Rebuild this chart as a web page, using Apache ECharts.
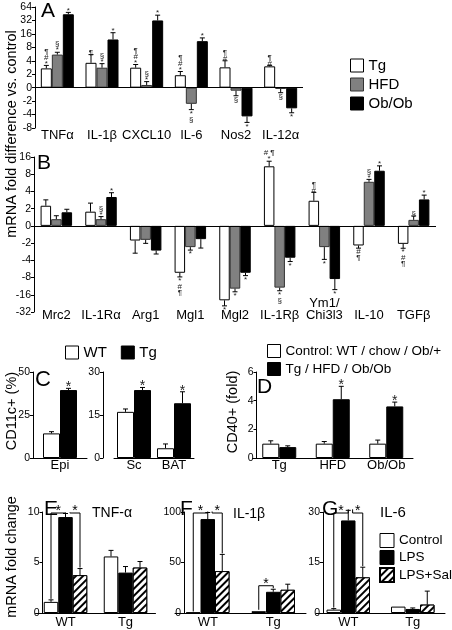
<!DOCTYPE html>
<html><head><meta charset="utf-8">
<script src="https://cdn.jsdelivr.net/npm/echarts@6/dist/echarts.min.js"></script>
<style>html,body{margin:0;padding:0;background:#fff}#c{width:452px;height:630px}</style>
</head><body><div id="c"></div>
<script>
// ---------------- data ----------------
// Panel A (fold difference vs control, signed log2 axis)
const catsA = ['TNFα','IL-1β','CXCL10','IL-6','Nos2','IL-12α'];
const tgA = [2.7, 3.6, 2.8, 1.85, 2.85, 3.0];
const tgSemA = [0.45, 1.9, 0.5, 0.45, 1.15, 0.15];
const hfdA = [5.5, 2.8, 0.4, -2.3, -0.45, -0.2];
const hfdSemA = [0.7, 0.65, 0.5, 0.8, 0.75, 0.55];
const obA = [44, 12, 32, 11, -4.4, -2.9];
const obSemA = [4.5, 5, 10, 2, 1.6, 0.75];
const tgMarkA = ['¶\n#\n*','¶','¶\n#\n*','¶\n#\n*','¶\n#','¶\n#'];
const hfdMarkA = ['§\n*','§\n*','§\n*','*\n§','§','§'];
const obMarkA = ['*','*','*','*','*','*'];
const ticksA = [-8,-4,-2,0,2,4,8,16,32,64];

// Panel B
const catsB = ['Mrc2','IL-1Rα','Arg1','Mgl1','Mgl2','IL-1Rβ','Ym1/\nChi3l3','IL-10','TGFβ'];
const tgB = [2.25, 1.65, -1.7, -6.6, -20, 11, 2.75, -2.2, -2.06];
const tgSemB = [0.6, 0.85, 1.3, 1.2, 5, 2.5, 1.1, 0.25, 0.4];
const hfdB = [0.78, 0.78, -1.62, -2.35, -12.5, -12, -2.35, 5.9, 0.7];
const hfdSemB = [0.4, 0.3, 0.4, 0.3, 1.7, 1.6, 1.5, 0.6, 0.45];
const obB = [1.58, 3.2, -2.7, -1.54, -6.6, -3.6, -8.5, 9.2, 2.9];
const obSemB = [0.35, 0.6, 0.4, 0.9, 0.8, 0.6, 4.5, 2, 0.55];
const tgMarkB = ['','','','*\n#\n¶','*','# ¶\n*','¶\n#','#\n¶','*\n#\n¶'];
const hfdMarkB = ['','§\n*','','*','*','*\n§','*','§\n*','§'];
const obMarkB = ['','*','','','*','*','*','*','*'];
const ticksB = [-32,-16,-8,-4,-2,0,2,4,8,16];

// Panel C (CD11c+ %)
const catsCL = ['Epi'];
const wtCL = [14.3], wtSemCL = [1.0], tgCL = [39.5], tgSemCL = [1.0];
const catsCR = ['Sc','BAT'];
const wtCR = [16.1, 3.4], wtSemCR = [1.0, 1.5], tgCR = [23.7, 19.1], tgSemCR = [0.9, 4.0];
const starCL = ['*'], starCR = ['*','*'];

// Panel D (CD40+ fold)
const catsD = ['Tg','HFD','Ob/Ob'];
const ctrlD = [1.0, 1.0, 1.0], ctrlSemD = [0.2, 0.15, 0.25];
const expD = [0.76, 4.1, 3.6], expSemD = [0.09, 0.9, 0.3];
const starD = ['', '*', '*'];

// Panels E, F, G (mRNA fold change)
const catsEFG = ['WT','Tg'];
const ctrlE = [1.1, 5.6], ctrlSemE = [0.2, 0.6];
const lpsE = [9.5, 4.0], lpsSemE = [0.35, 0.6];
const salE = [3.75, 4.5], salSemE = [0.65, 0.6];
const ctrlF = [0.5, 1.8], ctrlSemF = [0, 0.4];
const lpsF = [93, 21], lpsSemF = [6.5, 2.5];
const salF = [41.5, 23], salSemF = [16.5, 5.5];
const ctrlG = [1.0, 1.9], ctrlSemG = [0.3, 0];
const lpsG = [27.5, 1.2], lpsSemG = [3, 0.3];
const salG = [10.6, 2.5], salSemG = [3, 4];
const bracketsE = [[0,0,1,9.9],[0,1,2,9.9]];
const bracketsF = [[0,0,1,99],[0,1,2,99],[1,0,1,27]];
const bracketsG = [[0,0,1,29.7],[0,1,2,29.7]];

// ---------------- helpers ----------------
const FONT = 'Liberation Sans, Arial, sans-serif';
const tf = v => v >= 2 ? Math.log2(v) : v <= -2 ? -Math.log2(-v) : v / 2;
const itf = t => t >= 1 ? Math.pow(2, t) : t <= -1 ? -Math.pow(2, -t) : t * 2;
const idf = v => v;
const GRAY = '#808080';
const hatch = {symbol:'rect', symbolSize:1, color:'#000', backgroundColor:'#fff',
  dashArrayX:[1,0], dashArrayY:[1.4,2.6], rotation:-Math.PI/4};

function bar(name, gi, vals, color, border, w, f, decal) {
  const s = {type:'bar', name, xAxisIndex:gi, yAxisIndex:gi, data:vals.map(f),
    barWidth:w, barGap:'0%', silent:true, animation:false,
    itemStyle:{color, borderColor:border, borderWidth:1}};
  if (decal) s.itemStyle.decal = decal;
  return s;
}
function errs(gi, vals, sems, off, f, marks, mk) {
  mk = mk || {size:8, lh:6, shift:1};
  const data = vals.map((v, i) => [i, f(v), f(v + (v < 0 ? -1 : 1) * sems[i]), v]);
  return {type:'custom', xAxisIndex:gi, yAxisIndex:gi, data, z:5, silent:true, animation:false,
    encode:{x:0, y:[1,2]},
    renderItem:(p, api) => {
      const i = api.value(0);
      const a = api.coord([i, api.value(1)]), b = api.coord([i, api.value(2)]);
      const x = a[0] + off;
      const ch = [];
      if (Math.abs(b[1] - a[1]) > 0.6) {
        ch.push({type:'line', shape:{x1:x, y1:a[1], x2:x, y2:b[1]}, style:{stroke:'#000', lineWidth:1}});
        ch.push({type:'line', shape:{x1:x-2.5, y1:b[1], x2:x+2.5, y2:b[1]}, style:{stroke:'#000', lineWidth:1}});
      }
      const m = marks && marks[p.dataIndex];
      if (m) {
        const up = api.value(3) >= 0;
        ch.push({type:'text', x:x, y: up ? b[1] + mk.shift : b[1] + 1,
          style:{text:m, align:'center', verticalAlign: up ? 'bottom' : 'top',
            fontSize:mk.size, fontFamily:FONT, fill:'#222', lineHeight:mk.lh}});
      }
      return {type:'group', children:ch};
    }};
}
function brackets(gi, list, tops, w) {
  return {type:'custom', xAxisIndex:gi, yAxisIndex:gi, data:list, z:6, silent:true, animation:false,
    encode:{x:0, y:3},
    renderItem:(p, api) => {
      const [cat, s1, s2, lvl] = list[p.dataIndex];
      const c = api.coord([cat, lvl]);
      let x1 = c[0] + (s1 - 1) * w, x2 = c[0] + (s2 - 1) * w;
      if (s1 === 1) x1 += w * 0.3;
      const y1 = api.coord([cat, tops[s1][cat]])[1] - 1;
      const y2 = api.coord([cat, tops[s2][cat]])[1] - 1;
      return {type:'group', children:[
        {type:'polyline', shape:{points:[[x1, y1], [x1, c[1]], [x2, c[1]], [x2, y2]]},
          style:{stroke:'#000', fill:null, lineWidth:1}},
        {type:'text', x:(x1 + x2) / 2, y:c[1] + 5,
          style:{text:'*', align:'center', verticalAlign:'bottom', fontSize:14, fontFamily:FONT, fill:'#000'}}
      ]};
    }};
}
const tops = (v, s) => v.map((x, i) => x + s[i]);

function yAx(gi, min, max, interval, extra) {
  return Object.assign({type:'value', gridIndex:gi, min, max, interval,
    axisLine:{show:true, lineStyle:{color:'#000', width:1}},
    axisTick:{show:true, length:3, lineStyle:{color:'#000'}},
    splitLine:{show:false},
    axisLabel:{fontSize:10.5, color:'#000', margin:3, fontFamily:FONT}}, extra || {});
}
function xAx(gi, data, extra) {
  return Object.assign({type:'category', gridIndex:gi, data,
    axisLine:{show:true, lineStyle:{color:'#000', width:1}},
    axisTick:{show:false},
    axisLabel:{fontSize:13, color:'#000', margin:1, interval:0, fontFamily:FONT}}, extra || {});
}
const zeroLine = {silent:true, symbol:'none', label:{show:false},
  lineStyle:{color:'#000', type:'solid', width:1}, data:[{yAxis:0}], animation:false};

// ---------------- option ----------------
const wA = 11, wB = 10.5, wC = 17, wE = 14.5;
const series = [];
// A
const sA = bar('Tg', 0, tgA, '#fff', '#000', wA, tf); sA.markLine = zeroLine;
series.push(sA, bar('HFD', 0, hfdA, GRAY, '#333', wA, tf), bar('Ob/Ob', 0, obA, '#000', '#000', wA, tf));
series.push(errs(0, tgA, tgSemA, -wA, tf, tgMarkA), errs(0, hfdA, hfdSemA, 0, tf, hfdMarkA), errs(0, obA, obSemA, wA, tf, obMarkA));
// B
const sB = bar('Tg', 1, tgB, '#fff', '#000', wB, tf); sB.markLine = zeroLine;
series.push(sB, bar('HFD', 1, hfdB, GRAY, '#333', wB, tf), bar('Ob/Ob', 1, obB, '#000', '#000', wB, tf));
series.push(errs(1, tgB, tgSemB, -wB, tf, tgMarkB), errs(1, hfdB, hfdSemB, 0, tf, hfdMarkB), errs(1, obB, obSemB, wB, tf, obMarkB));
// C
const starMk = {size:14, lh:14, shift:6};
series.push(bar('WT', 2, wtCL, '#fff', '#000', wC, idf), bar('Tg', 2, tgCL, '#000', '#000', wC, idf));
series.push(errs(2, wtCL, wtSemCL, -wC/2, idf), errs(2, tgCL, tgSemCL, wC/2, idf, starCL, starMk));
series.push(bar('WT', 3, wtCR, '#fff', '#000', wC, idf), bar('Tg', 3, tgCR, '#000', '#000', wC, idf));
series.push(errs(3, wtCR, wtSemCR, -wC/2, idf), errs(3, tgCR, tgSemCR, wC/2, idf, starCR, starMk));
// D
series.push(bar('Control: WT / chow / Ob/+', 4, ctrlD, '#fff', '#000', wC, idf), bar('Tg / HFD / Ob/Ob', 4, expD, '#000', '#000', wC, idf));
series.push(errs(4, ctrlD, ctrlSemD, -wC/2, idf), errs(4, expD, expSemD, wC/2, idf, starD, starMk));
// E F G
[[5, ctrlE, ctrlSemE, lpsE, lpsSemE, salE, salSemE, bracketsE],
 [6, ctrlF, ctrlSemF, lpsF, lpsSemF, salF, salSemF, bracketsF],
 [7, ctrlG, ctrlSemG, lpsG, lpsSemG, salG, salSemG, bracketsG]].forEach(([gi, c, cs, l, ls, s, ss, br]) => {
  series.push(bar('Control', gi, c, '#fff', '#000', wE, idf), bar('LPS', gi, l, '#000', '#000', wE, idf),
    bar('LPS+Sal', gi, s, '#fff', '#000', wE, idf, hatch));
  series.push(errs(gi, c, cs, -wE, idf), errs(gi, l, ls, 0, idf), errs(gi, s, ss, wE, idf));
  series.push(brackets(gi, br, [tops(c, cs), tops(l, ls), tops(s, ss)], wE));
});

const labelFmt = v => String(Math.round(itf(v)));
const W = {color:'#fff', borderColor:'#000', borderWidth:1};
const K = {color:'#000', borderColor:'#000', borderWidth:1};
const G = {color:GRAY, borderColor:'#333', borderWidth:1};
const option = {
  animation:false,
  textStyle:{fontFamily:FONT},
  grid:[
    {left:35, top:7, width:268, height:121},
    {left:34, top:157, width:402, height:155},
    {left:33, top:372, width:54, height:86},
    {left:114, top:372, width:80, height:86},
    {left:252.5, top:372, width:160.5, height:86},
    {left:35.5, top:512, width:120, height:101},
    {left:175, top:512, width:131, height:101},
    {left:316, top:512, width:129, height:101}
  ],
  xAxis:[
    xAx(0, catsA, {axisLine:{show:false}}),
    xAx(1, catsB, {axisLine:{show:false}, axisLabel:{fontSize:13, color:'#000', interval:0, margin:9, verticalAlign:'bottom', lineHeight:12, fontFamily:FONT}}),
    xAx(2, catsCL), xAx(3, catsCR), xAx(4, catsD),
    xAx(5, catsEFG, {axisLabel:{fontSize:13, color:'#000', margin:3, fontFamily:FONT}}),
    xAx(6, catsEFG, {axisLabel:{fontSize:13, color:'#000', margin:3, fontFamily:FONT}}),
    xAx(7, catsEFG, {axisLabel:{fontSize:13, color:'#000', margin:3, fontFamily:FONT}})
  ],
  yAxis:[
    yAx(0, tf(ticksA[0]), tf(ticksA[ticksA.length-1]), 1, {axisLabel:{fontSize:10.5, color:'#000', margin:3, formatter:labelFmt}}),
    yAx(1, tf(ticksB[0]), tf(ticksB[ticksB.length-1]), 1, {axisLabel:{fontSize:10.5, color:'#000', margin:3, formatter:labelFmt}}),
    yAx(2, 0, 50, 25), yAx(3, 0, 30, 15, {offset:11}),
    yAx(4, 0, 6, 2, {offset:-4}),
    yAx(5, 0, 10, 5, {offset:-7}), yAx(6, 0, 100, 50, {offset:-9}), yAx(7, 0, 30, 15, {offset:-7})
  ],
  legend:[
    {data:[{name:'Tg', itemStyle:W}, {name:'HFD', itemStyle:G}, {name:'Ob/Ob', itemStyle:K}],
      orient:'vertical', left:350, top:58, padding:0, icon:'rect', itemWidth:13, itemHeight:13, itemGap:4, selectedMode:false,
      textStyle:{fontSize:15, color:'#000', fontFamily:FONT}},
    {data:[{name:'WT', itemStyle:W}, {name:'Tg', itemStyle:K}], orient:'horizontal', left:65, top:345, padding:0, icon:'rect', itemWidth:13, itemHeight:13, itemGap:14, selectedMode:false,
      textStyle:{fontSize:15, color:'#000', fontFamily:FONT}},
    {data:[{name:'Control: WT / chow / Ob/+', itemStyle:W}, {name:'Tg / HFD / Ob/Ob', itemStyle:K}], orient:'vertical', left:267, top:344, padding:0, icon:'rect', itemWidth:13, itemHeight:13, itemGap:4, selectedMode:false,
      textStyle:{fontSize:13.5, color:'#000', fontFamily:FONT}},
    {data:[{name:'Control', itemStyle:W}, {name:'LPS', itemStyle:K}, 'LPS+Sal'], orient:'vertical', left:379, top:533, padding:0, icon:'rect', itemWidth:14, itemHeight:14, itemGap:2, selectedMode:false,
      textStyle:{fontSize:13.5, color:'#000', fontFamily:FONT}}
  ],
  graphic:[
    {type:'text', x:41, y:1, style:{text:'A', fontSize:21, fontFamily:FONT, fill:'#000'}},
    {type:'text', x:37, y:153, style:{text:'B', fontSize:21, fontFamily:FONT, fill:'#000'}},
    {type:'text', x:35, y:369, style:{text:'C', fontSize:22, fontFamily:FONT, fill:'#000'}},
    {type:'text', x:257, y:377, style:{text:'D', fontSize:21, fontFamily:FONT, fill:'#000'}},
    {type:'text', x:44, y:499, style:{text:'E', fontSize:21, fontFamily:FONT, fill:'#000'}},
    {type:'text', x:180, y:499, style:{text:'F', fontSize:21, fontFamily:FONT, fill:'#000'}},
    {type:'text', x:322, y:499, style:{text:'G', fontSize:21, fontFamily:FONT, fill:'#000'}},
    {type:'text', x:92, y:506, style:{text:'TNF-α', fontSize:14, fontFamily:FONT, fill:'#000'}},
    {type:'text', x:233, y:507, style:{text:'IL-1β', fontSize:14, fontFamily:FONT, fill:'#000'}},
    {type:'text', x:380, y:505, style:{text:'IL-6', fontSize:15, fontFamily:FONT, fill:'#000'}},
    {type:'text', x:12, y:134, rotation:Math.PI/2, style:{text:'mRNA fold difference vs. control', fontSize:14.5, fontFamily:FONT, fill:'#000', align:'center', verticalAlign:'middle'}},
    {type:'text', x:12, y:411, rotation:Math.PI/2, style:{text:'CD11c+ (%)', fontSize:14.5, fontFamily:FONT, fill:'#000', align:'center', verticalAlign:'middle'}},
    {type:'text', x:233, y:412, rotation:Math.PI/2, style:{text:'CD40+ (fold)', fontSize:14.5, fontFamily:FONT, fill:'#000', align:'center', verticalAlign:'middle'}},
    {type:'text', x:12, y:557, rotation:Math.PI/2, style:{text:'mRNA fold change', fontSize:14.5, fontFamily:FONT, fill:'#000', align:'center', verticalAlign:'middle'}}
  ],
  series
};
const chart = echarts.init(document.getElementById('c'), null, {renderer:'canvas'});
chart.setOption(option);
</script>
</body></html>
